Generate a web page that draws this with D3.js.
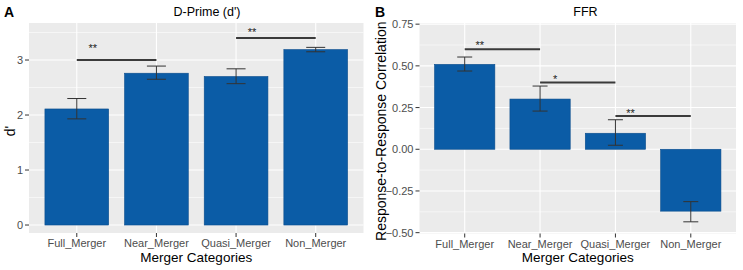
<!DOCTYPE html>
<html>
<head>
<meta charset="utf-8">
<script src="https://cdn.jsdelivr.net/npm/d3@7"></script>
<style>
  body { margin: 0; background: #fff; }
  text { font-family: "Liberation Sans", Arial, sans-serif; }
</style>
</head>
<body>
<div class="chart"></div>
<script>
const categories = ['Full_Merger', 'Near_Merger', 'Quasi_Merger', 'Non_Merger'];

// panel A: d-prime
const dprimeMean = [2.11, 2.76, 2.70, 3.19];
const dprimeLow = [1.93, 2.65, 2.57, 3.15];
const dprimeHigh = [2.30, 2.89, 2.84, 3.23];
const dprimeTicks = [0, 1, 2, 3];
const dprimeSig = [
    {from: 0, to: 1, y: 3.0, label: '**', labelY: 3.25},
    {from: 2, to: 3, y: 3.4, label: '**', labelY: 3.55}
];

// panel B: FFR correlation
const ffrMean = [0.509, 0.301, 0.096, -0.371];
const ffrLow = [0.469, 0.229, 0.024, -0.435];
const ffrHigh = [0.553, 0.379, 0.177, -0.314];
const ffrTicks = [-0.5, -0.25, 0, 0.25, 0.5, 0.75];
const ffrSig = [
    {from: 0, to: 1, y: 0.60, label: '**', labelY: 0.636},
    {from: 1, to: 2, y: 0.40, label: '*', labelY: 0.433},
    {from: 2, to: 3, y: 0.20, label: '**', labelY: 0.23}
];

const _width = 743, _height = 270;

let svg = d3.select('.chart')
    .append('svg')
    .attr('width', _width)
    .attr('height', _height);

function draw_panel(p) {
    let g = svg.append('g');
    let x = d3.scaleBand()
        .domain(categories)
        .range([p.left, p.right])
        .paddingInner(0.2)
        .paddingOuter(0.2);
    let y = d3.scaleLinear()
        .domain(p.domain)
        .range([p.bottom, p.top]);
    let cx = i => x(categories[i]) + x.bandwidth() / 2;

    // panel background
    g.append('rect')
        .attr('x', p.left).attr('y', p.top)
        .attr('width', p.right - p.left).attr('height', p.bottom - p.top)
        .attr('fill', '#EBEBEB');

    // minor grid (half steps between ticks)
    let minor = [];
    let dt = p.ticks[1] - p.ticks[0];
    for (let i = -1; i < p.ticks.length; i++) {
        let v = p.ticks[0] + dt * (i + 0.5);
        if (v > p.domain[0] && v < p.domain[1]) minor.push(v);
    }
    g.append('g').selectAll('line')
        .data(minor)
        .enter().append('line')
        .attr('x1', p.left).attr('x2', p.right)
        .attr('y1', d => y(d)).attr('y2', d => y(d))
        .attr('stroke', '#fff').attr('stroke-width', 0.55);

    // major grid
    g.append('g').selectAll('line')
        .data(p.ticks)
        .enter().append('line')
        .attr('x1', p.left).attr('x2', p.right)
        .attr('y1', d => y(d)).attr('y2', d => y(d))
        .attr('stroke', '#fff').attr('stroke-width', 1.1);
    g.append('g').selectAll('line')
        .data(categories)
        .enter().append('line')
        .attr('x1', d => x(d) + x.bandwidth() / 2).attr('x2', d => x(d) + x.bandwidth() / 2)
        .attr('y1', p.top).attr('y2', p.bottom)
        .attr('stroke', '#fff').attr('stroke-width', 1.1);

    // bars
    g.append('g').selectAll('rect')
        .data(p.mean)
        .enter().append('rect')
        .attr('x', (d, i) => x(categories[i]))
        .attr('width', x.bandwidth())
        .attr('y', d => Math.min(y(d), y(0)))
        .attr('height', d => Math.abs(y(d) - y(0)))
        .attr('fill', '#0B5CA6')
        .attr('stroke', '#0A4C8C')
        .attr('stroke-width', 0.6);

    // error bars
    let eb = g.append('g')
        .attr('stroke', '#333')
        .attr('stroke-width', 1)
        .attr('fill', 'none');
    p.mean.forEach((m, i) => {
        let c = cx(i), w = p.whisker / 2;
        eb.append('path')
            .attr('d', `M${c - w},${y(p.high[i])}H${c + w}M${c},${y(p.high[i])}V${y(p.low[i])}M${c - w},${y(p.low[i])}H${c + w}`);
    });

    // significance brackets
    p.sig.forEach(s => {
        g.append('line')
            .attr('x1', cx(s.from)).attr('x2', cx(s.to))
            .attr('y1', y(s.y)).attr('y2', y(s.y))
            .attr('stroke', '#3a3a3a').attr('stroke-width', 2);
        g.append('text')
            .attr('x', cx(s.from) + 0.2 * x.step())
            .attr('y', y(s.labelY) + 6)
            .attr('text-anchor', 'middle')
            .attr('font-size', 11)
            .attr('fill', '#222')
            .text(s.label);
    });

    // y axis ticks and labels
    let ya = g.append('g');
    ya.selectAll('line')
        .data(p.ticks)
        .enter().append('line')
        .attr('x1', p.left - 4).attr('x2', p.left)
        .attr('y1', d => y(d)).attr('y2', d => y(d))
        .attr('stroke', '#333').attr('stroke-width', 1);
    ya.selectAll('text')
        .data(p.ticks)
        .enter().append('text')
        .attr('x', p.left - 6)
        .attr('y', d => y(d) + 4)
        .attr('text-anchor', 'end')
        .attr('font-size', 11)
        .attr('fill', '#4D4D4D')
        .text(d => p.fmt(d));

    // x axis ticks and labels
    let xa = g.append('g');
    xa.selectAll('line')
        .data(categories)
        .enter().append('line')
        .attr('x1', d => x(d) + x.bandwidth() / 2).attr('x2', d => x(d) + x.bandwidth() / 2)
        .attr('y1', p.bottom).attr('y2', p.bottom + 4)
        .attr('stroke', '#333').attr('stroke-width', 1);
    xa.selectAll('text')
        .data(categories)
        .enter().append('text')
        .attr('x', d => x(d) + x.bandwidth() / 2)
        .attr('y', p.bottom + 14)
        .attr('text-anchor', 'middle')
        .attr('font-size', 11)
        .attr('fill', '#4D4D4D')
        .text(d => d);

    // titles
    g.append('text')
        .attr('x', (p.left + p.right) / 2)
        .attr('y', 262)
        .attr('text-anchor', 'middle')
        .attr('font-size', 13.5)
        .attr('fill', '#000')
        .text('Merger Categories');
    g.append('text')
        .attr('x', p.titleX)
        .attr('y', 16)
        .attr('text-anchor', 'middle')
        .attr('font-size', 12.5)
        .attr('fill', '#000')
        .text(p.title);
    g.append('text')
        .attr('transform', `translate(${p.ylabX},${(p.top + p.bottom) / 2 + 3}) rotate(-90)`)
        .attr('text-anchor', 'middle')
        .attr('font-size', 14)
        .attr('fill', '#000')
        .text(p.ylab);
    g.append('text')
        .attr('x', p.tagX)
        .attr('y', 17)
        .attr('font-size', 14)
        .attr('font-weight', 'bold')
        .attr('fill', '#000')
        .text(p.tag);
}

draw_panel({
    left: 29, right: 363.5, top: 23, bottom: 233,
    domain: [-0.145, 3.673],
    mean: dprimeMean, low: dprimeLow, high: dprimeHigh,
    ticks: dprimeTicks, fmt: d3.format('d'),
    sig: dprimeSig, whisker: 19,
    title: "D-Prime (d')", titleX: 207,
    ylab: "d'", ylabX: 15,
    tag: 'A', tagX: 4
});

draw_panel({
    left: 419.5, right: 736, top: 23, bottom: 233.5,
    domain: [-0.505, 0.757],
    mean: ffrMean, low: ffrLow, high: ffrHigh,
    ticks: ffrTicks, fmt: d3.format('.2f'),
    sig: ffrSig, whisker: 15,
    title: 'FFR', titleX: 585.5,
    ylab: 'Response-to-Response Correlation', ylabX: 386,
    tag: 'B', tagX: 375
});
</script>
</body>
</html>
